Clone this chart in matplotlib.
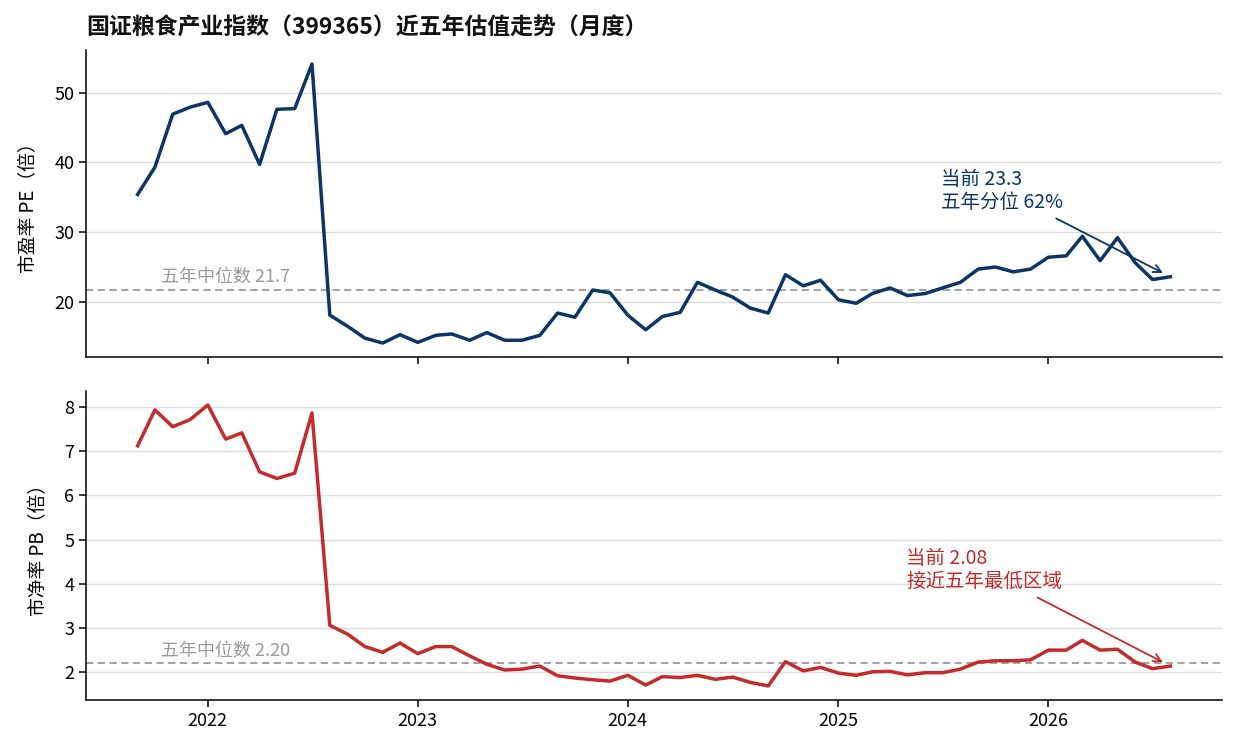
import matplotlib
matplotlib.use("Agg")
import matplotlib.pyplot as plt
import matplotlib.dates as mdates
import pandas as pd
import numpy as np

plt.rcParams['font.family'] = ['Noto Sans CJK SC', 'DejaVu Sans']
plt.rcParams['axes.unicode_minus'] = False

# ---------------- data ----------------
dates = pd.date_range("2021-09-01", "2026-08-01", freq="MS")

pe = [35.4, 39.3, 46.9, 47.9,
      48.6, 44.1, 45.3, 39.7, 47.6, 47.7, 54.1, 18.1, 16.5, 14.8, 14.1, 15.3,
      14.2, 15.2, 15.4, 14.5, 15.6, 14.5, 14.5, 15.2, 18.4, 17.8, 21.7, 21.3,
      18.1, 16.0, 17.9, 18.5, 22.8, 21.7, 20.7, 19.1, 18.4, 23.9, 22.3, 23.1,
      20.3, 19.8, 21.2, 22.0, 20.9, 21.2, 22.0, 22.8, 24.7, 25.0, 24.3, 24.7,
      26.4, 26.6, 29.4, 25.9, 29.2, 25.6, 23.2, 23.6]

pb = [7.12, 7.93, 7.55, 7.71,
      8.04, 7.27, 7.41, 6.53, 6.38, 6.50, 7.86, 3.06, 2.86, 2.58, 2.45, 2.66,
      2.42, 2.58, 2.58, 2.37, 2.18, 2.05, 2.07, 2.14, 1.92, 1.87, 1.83, 1.80,
      1.93, 1.71, 1.90, 1.88, 1.93, 1.84, 1.89, 1.77, 1.69, 2.24, 2.03, 2.11,
      1.98, 1.93, 2.01, 2.02, 1.94, 1.99, 1.99, 2.07, 2.23, 2.26, 2.26, 2.28,
      2.50, 2.50, 2.72, 2.50, 2.52, 2.23, 2.08, 2.14]

pe_median = 21.7
pb_median = 2.20

title = "国证粮食产业指数（399365）近五年估值走势（月度）"
pe_ylabel = "市盈率 PE（倍）"
pb_ylabel = "市净率 PB（倍）"
pe_median_label = "五年中位数 21.7"
pb_median_label = "五年中位数 2.20"
pe_note = "当前 23.3\n五年分位 62%"
pb_note = "当前 2.08\n接近五年最低区域"

PE_COLOR = "#0b3567"
PB_COLOR = "#c62a2a"
MED_COLOR = "#9a9a9a"
GRID_COLOR = "#dcdcdc"

# ---------------- figure ----------------
fig = plt.figure(figsize=(12.4, 7.55), dpi=100)
L, R = 86 / 1240, 1222 / 1240
ax1 = fig.add_axes([L, 1 - 357 / 755, R - L, (357 - 50) / 755])
ax2 = fig.add_axes([L, 1 - 700 / 755, R - L, (700 - 391) / 755], sharex=ax1)

TICK_FS = 13
LABEL_FS = 13.5

for ax in (ax1, ax2):
    ax.spines['top'].set_visible(False)
    ax.spines['right'].set_visible(False)
    ax.spines['left'].set_linewidth(1.1)
    ax.spines['bottom'].set_linewidth(1.1)
    ax.grid(axis='y', color=GRID_COLOR, linewidth=1.0)
    ax.set_axisbelow(True)
    ax.tick_params(axis='both', labelsize=TICK_FS, length=5, width=1.1)

ax1.plot(dates, pe, color=PE_COLOR, linewidth=2.5, zorder=3)
ax2.plot(dates, pb, color=PB_COLOR, linewidth=2.5, zorder=3)

ax1.axhline(pe_median, color=MED_COLOR, linestyle=(0, (4, 2.5)), linewidth=1.3, zorder=2)
ax2.axhline(pb_median, color=MED_COLOR, linestyle=(0, (4, 2.5)), linewidth=1.3, zorder=2)

med_x = dates[0] + pd.Timedelta(days=40)
ax1.annotate(pe_median_label, xy=(med_x, pe_median), xytext=(0, 3),
             textcoords='offset points', ha='left', va='bottom',
             color=MED_COLOR, fontsize=13)
ax2.annotate(pb_median_label, xy=(med_x, pb_median), xytext=(0, 3),
             textcoords='offset points', ha='left', va='bottom',
             color=MED_COLOR, fontsize=13)

ax1.annotate(pe_note, xy=(dates[-1], pe[-1]),
             xytext=(pd.Timestamp("2025-06-29"), 35.9),
             ha='left', va='center', color=PE_COLOR, fontsize=14,
             linespacing=1.15,
             arrowprops=dict(arrowstyle='->', color=PE_COLOR, lw=1.3,
                             shrinkA=4, shrinkB=6))
ax2.annotate(pb_note, xy=(dates[-1], pb[-1]),
             xytext=(pd.Timestamp("2025-04-29"), 4.31),
             ha='left', va='center', color=PB_COLOR, fontsize=14,
             linespacing=1.15,
             arrowprops=dict(arrowstyle='->', color=PB_COLOR, lw=1.3,
                             shrinkA=4, shrinkB=6))

ax1.set_ylabel(pe_ylabel, fontsize=LABEL_FS, labelpad=11)
ax2.set_ylabel(pb_ylabel, fontsize=LABEL_FS, labelpad=11)

ax1.set_yticks([20, 30, 40, 50])
ax2.set_yticks([2, 3, 4, 5, 6, 7, 8])

ax2.xaxis.set_major_locator(mdates.YearLocator())
ax2.xaxis.set_major_formatter(mdates.DateFormatter('%Y'))
plt.setp(ax1.get_xticklabels(), visible=False)

fig.text(L, 1 - 28 / 755, title, ha='left', va='center',
         fontsize=16.5, fontweight='bold', color='#111111')

fig.savefig("out.png", dpi=100)
